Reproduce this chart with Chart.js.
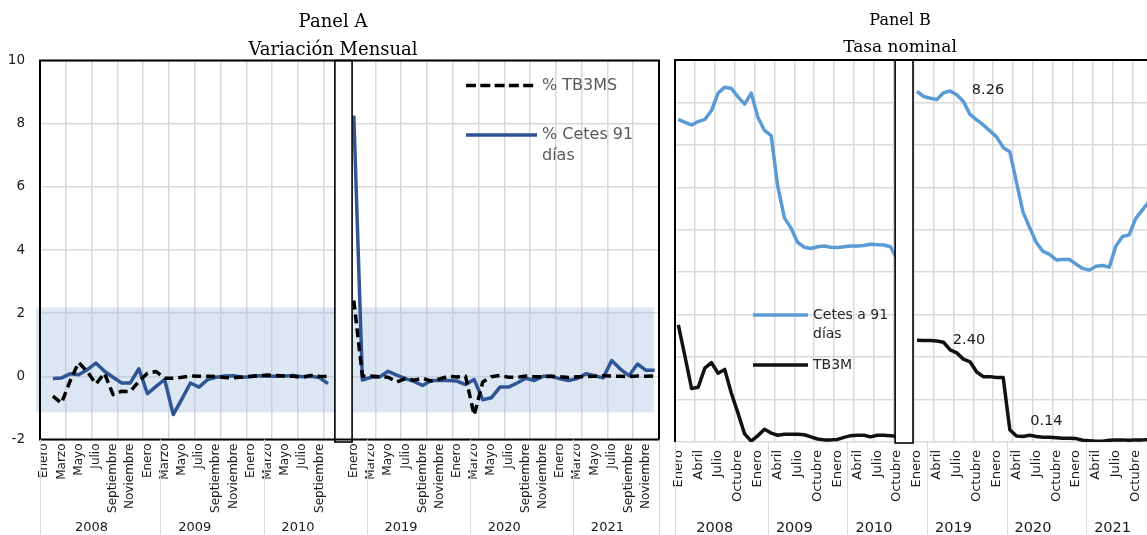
<!DOCTYPE html>
<html lang="es">
<head>
<meta charset="utf-8">
<title>Cetes 91 días y TB3M</title>
<script src="https://cdn.jsdelivr.net/npm/chart.js@4/dist/chart.umd.min.js"></script>
<style>
  html, body { margin: 0; padding: 0; background: #fff; overflow: hidden; }
  #wrap { position: relative; width: 1147px; height: 535px; overflow: hidden; background: #fff; }
  canvas { position: absolute; top: 0; }
  #panelA { left: 0; }
  #panelB { left: 665px; }
</style>
</head>
<body>
<div id="wrap">
  <canvas id="panelA" width="668" height="535"></canvas>
  <canvas id="panelB" width="495" height="535"></canvas>
</div>
<script>
// ---- Categories ---------------------------------------------------------
const years = ['2008', '2009', '2010', '2019', '2020', '2021'];
const months = ['Enero', 'Febrero', 'Marzo', 'Abril', 'Mayo', 'Junio', 'Julio',
                'Agosto', 'Septiembre', 'Octubre', 'Noviembre', 'Diciembre'];
// Nov–Dic 2010 sit under the axis break and carry no label
const monthLabels = years.flatMap(y => months.map((m, k) => (y === '2010' && k >= 10) ? '' : m));

// ---- Panel A: variación mensual (puntos porcentuales) -------------------
const tb3msVar = [
  // 2008
  null, -0.63, -0.85, -0.15, 0.44, 0.15, -0.24, 0.10, -0.58, -0.47, -0.48, -0.16,
  // 2009
  0.10, 0.15, -0.06, -0.06, -0.03, 0.01, 0.00, 0.00, -0.01, -0.04, -0.05, -0.02,
  // 2010
  0.00, 0.02, 0.04, 0.03, 0.01, 0.00, -0.03, 0.03, 0.00, -0.01, null, null,
  // 2019
  2.40, 0.01, 0.01, -0.01, -0.03, -0.18, -0.07, -0.12, -0.06, -0.15, -0.08, 0.00,
  // 2020
  -0.02, 0.00, -1.23, -0.18, -0.01, 0.03, -0.03, -0.03, 0.01, -0.01, -0.01, 0.00,
  // 2021
  -0.01, -0.04, -0.01, -0.01, 0.00, 0.02, 0.01, 0.00, -0.01, 0.01, 0.00, 0.01
];
const cetesVar = [
  // 2008
  null, -0.07, -0.05, 0.08, 0.05, 0.21, 0.42, 0.16, -0.03, -0.21, -0.21, 0.24,
  // 2009
  -0.55, -0.32, -0.10, -1.21, -0.72, -0.21, -0.34, -0.10, -0.03, 0.01, 0.02, -0.03,
  // 2010
  -0.01, 0.02, 0.00, 0.00, 0.01, 0.03, -0.01, 0.00, -0.04, -0.23, null, null,
  // 2019
  8.26, -0.12, -0.03, -0.02, 0.16, 0.04, -0.07, -0.16, -0.29, -0.13, -0.13, -0.13,
  // 2020
  -0.15, -0.26, -0.10, -0.74, -0.68, -0.34, -0.34, -0.21, -0.06, -0.13, 0.00, 0.00,
  // 2021
  -0.08, -0.13, -0.07, 0.08, 0.02, -0.05, 0.50, 0.23, 0.02, 0.39, 0.19, 0.19
];
const yTicksA = [-2, 0, 2, 4, 6, 8, 10];
const bandRange = [-1.14, 2.18];   // shaded band on panel A

// ---- Panel B: tasa nominal (%) -------------------------------------------
const cetesRate = [
  // 2008
  7.60, 7.53, 7.47, 7.55, 7.60, 7.81, 8.22, 8.36, 8.33, 8.13, 7.96, 8.22,
  // 2009
  7.65, 7.34, 7.22, 6.02, 5.28, 5.04, 4.70, 4.59, 4.56, 4.60, 4.62, 4.59,
  // 2010
  4.58, 4.60, 4.62, 4.62, 4.63, 4.66, 4.65, 4.64, 4.60, 4.30, null, null,
  // 2019
  8.26, 8.14, 8.10, 8.07, 8.23, 8.27, 8.18, 8.02, 7.72, 7.59, 7.47, 7.33,
  // 2020
  7.19, 6.94, 6.84, 6.12, 5.41, 5.05, 4.70, 4.49, 4.42, 4.29, 4.30, 4.30,
  // 2021
  4.19, 4.09, 4.05, 4.14, 4.16, 4.12, 4.62, 4.84, 4.88, 5.27, 5.47, 5.66
];
const tb3mRate = [
  // 2008
  2.76, 2.02, 1.26, 1.29, 1.74, 1.87, 1.62, 1.71, 1.15, 0.68, 0.19, 0.02,
  // 2009
  0.15, 0.30, 0.21, 0.16, 0.18, 0.18, 0.18, 0.17, 0.12, 0.07, 0.05, 0.05,
  // 2010
  0.06, 0.11, 0.15, 0.16, 0.16, 0.12, 0.16, 0.16, 0.15, 0.13, null, null,
  // 2019
  2.40, 2.39, 2.39, 2.38, 2.35, 2.17, 2.10, 1.95, 1.89, 1.65, 1.54, 1.54,
  // 2020
  1.52, 1.52, 0.29, 0.14, 0.13, 0.16, 0.13, 0.11, 0.11, 0.10, 0.09, 0.09,
  // 2021
  0.08, 0.04, 0.03, 0.02, 0.02, 0.04, 0.05, 0.05, 0.04, 0.05, 0.05, 0.06
];
// points whose value is printed next to them: [dataset, category index]
const labelledPoints = [[0, 36], [1, 36], [1, 51]];

// ---- Shared helpers ------------------------------------------------------
const SANS = '"DejaVu Sans", Verdana, sans-serif';
Chart.defaults.font.family = SANS;
const GRID = '#d9d9d9';

// left edge of category slot b
function slotEdge(x, b) { return x.getPixelForValue(b - 0.5); }

function sharpX(v) { return Math.round(v) + 0.5; }

const yearRow = (cfg) => ({
  id: 'yearRow',
  afterDraw(chart) {
    const { ctx, chartArea, scales: { x } } = chart;
    ctx.save();
    ctx.strokeStyle = GRID;
    ctx.lineWidth = 1;
    cfg.dividers.forEach(b => {
      const px = sharpX(slotEdge(x, b));
      ctx.beginPath();
      ctx.moveTo(px, chartArea.bottom);
      ctx.lineTo(px, chart.height);
      ctx.stroke();
    });
    ctx.fillStyle = '#1a1a1a';
    ctx.font = cfg.font;
    ctx.textAlign = 'center';
    ctx.textBaseline = 'alphabetic';
    years.forEach((yr, k) => {
      const cx = (slotEdge(x, k * 12) + slotEdge(x, k * 12 + 12)) / 2;
      ctx.fillText(yr, cx, cfg.baseline);
    });
    ctx.restore();
  }
});

function drawBreak(chart, from, to, bottomExtra) {
  const { ctx, chartArea, scales: { x } } = chart;
  const l = x.getPixelForValue(from), r = x.getPixelForValue(to);
  ctx.save();
  ctx.fillStyle = '#fff';
  ctx.fillRect(l, chartArea.top, r - l, chartArea.bottom - chartArea.top + bottomExtra);
  ctx.strokeStyle = '#000';
  ctx.lineWidth = 1.6;
  ctx.strokeRect(l, chartArea.top, r - l, chartArea.bottom - chartArea.top + bottomExtra);
  ctx.restore();
}

function titles(ctx, cx, lines) {
  ctx.save();
  ctx.fillStyle = '#000';
  ctx.textAlign = 'center';
  ctx.textBaseline = 'alphabetic';
  lines.forEach(([text, y, font]) => { ctx.font = font; ctx.fillText(text, cx, y); });
  ctx.restore();
}

function legendItem(ctx, item) {
  ctx.save();
  ctx.strokeStyle = item.color;
  ctx.lineWidth = 3.5;
  ctx.setLineDash(item.dash || []);
  ctx.beginPath();
  ctx.moveTo(item.x0, item.y);
  ctx.lineTo(item.x1, item.y);
  ctx.stroke();
  ctx.setLineDash([]);
  ctx.fillStyle = item.textColor;
  ctx.font = item.font;
  ctx.textAlign = 'left';
  ctx.textBaseline = 'middle';
  item.text.forEach((t, k) => ctx.fillText(t, item.x1 + 5, item.y + k * item.lead));
  ctx.restore();
}

// ---- Panel A -------------------------------------------------------------
const panelADecor = {
  id: 'panelADecor',
  beforeDatasetsDraw(chart) {
    const { ctx, chartArea, scales: { y } } = chart;
    const top = y.getPixelForValue(bandRange[1]);
    const bot = y.getPixelForValue(bandRange[0]);
    ctx.save();
    ctx.fillStyle = 'rgba(170, 195, 226, 0.4)';
    ctx.fillRect(chartArea.left - 4, top, chartArea.right - 5 - (chartArea.left - 4), bot - top);
    ctx.restore();
  },
  afterDatasetsDraw(chart) {
    const { ctx, chartArea } = chart;
    drawBreak(chart, 33.8, 35.8, 2.5);
    ctx.save();
    ctx.strokeStyle = '#000';
    ctx.lineWidth = 2;
    ctx.strokeRect(chartArea.left, chartArea.top, chartArea.right - chartArea.left, chartArea.bottom - chartArea.top);
    ctx.restore();
  },
  afterDraw(chart) {
    const ctx = chart.ctx;
    titles(ctx, 333, [
      ['Panel A', 26.5, '18px "DejaVu Serif"'],
      ['Variación Mensual', 55, '18px "DejaVu Serif"']
    ]);
    legendItem(ctx, { x0: 466, x1: 537, y: 85.5, color: '#000', dash: [10, 4.3],
      text: ['% TB3MS'], font: '16px ' + SANS, textColor: '#595959', lead: 21 });
    legendItem(ctx, { x0: 466, x1: 537, y: 135, color: '#2f5597',
      text: ['% Cetes 91', 'días'], font: '16px ' + SANS, textColor: '#595959', lead: 21 });
  }
};

new Chart(document.getElementById('panelA'), {
  type: 'line',
  data: {
    labels: monthLabels,
    datasets: [
      { label: '% TB3MS', data: tb3msVar, borderColor: '#000', borderWidth: 3.5,
        borderDash: [9, 5], borderJoinStyle: 'round', pointRadius: 0, tension: 0, spanGaps: false },
      { label: '% Cetes 91 días', data: cetesVar, borderColor: '#2f5597', borderWidth: 3.5,
        borderJoinStyle: 'round', pointRadius: 0, tension: 0, spanGaps: false }
    ]
  },
  options: {
    responsive: false, animation: false, devicePixelRatio: 1, events: [],
    layout: { padding: { top: 60.5, right: 9, left: 0, bottom: 0 } },
    plugins: { legend: { display: false }, tooltip: { enabled: false }, title: { display: false } },
    scales: {
      x: {
        type: 'category', offset: true,
        grid: { offset: true, drawTicks: false, lineWidth: 1.5,
                color: c => (c.index % 3 === 0 ? GRID : 'rgba(0,0,0,0)') },
        border: { display: false },
        ticks: {
          autoSkip: false, minRotation: 90, maxRotation: 90, padding: 4,
          color: '#1a1a1a', font: { family: SANS, size: 12 },
          callback: (v, i) => (i % 2 === 0 ? monthLabels[i] : '')
        },
        afterFit: s => { s.height = 95.5; s.paddingLeft = 0; s.paddingRight = 0; }
      },
      y: {
        min: yTicksA[0], max: yTicksA[yTicksA.length - 1],
        afterBuildTicks: s => { s.ticks = yTicksA.map(v => ({ value: v })); },
        grid: { drawTicks: false, lineWidth: 1.5, color: GRID },
        border: { display: false },
        ticks: { padding: 15, color: '#1a1a1a', font: { family: SANS, size: 13.5 } },
        afterFit: s => { s.width = 40; s.paddingTop = 0; s.paddingBottom = 0; }
      }
    }
  },
  plugins: [panelADecor, yearRow({ dividers: [0, 14, 26, 38, 50, 62, 72], font: '13px ' + SANS, baseline: 531 })]
});

// ---- Panel B -------------------------------------------------------------
const labelOffsets = [[71, -1], [52, 0.5], [30, -15]];

const panelBDecor = {
  id: 'panelBDecor',
  afterDatasetsDraw(chart) {
    const { ctx, chartArea, scales: { x, y } } = chart;
    drawBreak(chart, 32.7, 35.4, 1);
    ctx.save();
    ctx.strokeStyle = '#000';
    ctx.lineWidth = 2;
    ctx.beginPath();
    ctx.moveTo(chartArea.left, chartArea.bottom);
    ctx.lineTo(chartArea.left, chartArea.top);
    ctx.lineTo(chart.width + 5, chartArea.top);
    ctx.stroke();
    // value labels
    ctx.fillStyle = '#1a1a1a';
    ctx.font = '14.5px ' + SANS;
    ctx.textAlign = 'center';
    ctx.textBaseline = 'middle';
    labelledPoints.forEach(([ds, idx], k) => {
      const v = chart.data.datasets[ds].data[idx];
      const [dx, dy] = labelOffsets[k];
      ctx.fillText(v.toFixed(2), x.getPixelForValue(idx) + dx, y.getPixelForValue(v) + dy);
    });
    ctx.restore();
  },
  afterDraw(chart) {
    const ctx = chart.ctx;
    titles(ctx, 235, [
      ['Panel B', 25, '16px "DejaVu Serif"'],
      ['Tasa nominal', 51.5, '17px "DejaVu Serif"']
    ]);
    legendItem(ctx, { x0: 88, x1: 143, y: 315, color: '#5b9bd5',
      text: ['Cetes a 91', 'días'], font: '14px ' + SANS, textColor: '#262626', lead: 19 });
    legendItem(ctx, { x0: 88, x1: 143, y: 365, color: '#111',
      text: ['TB3M'], font: '14px ' + SANS, textColor: '#262626', lead: 19 });
  }
};

new Chart(document.getElementById('panelB'), {
  type: 'line',
  data: {
    labels: monthLabels,
    datasets: [
      { label: 'Cetes a 91 días', data: cetesRate, borderColor: '#5b9bd5', borderWidth: 3.5,
        borderJoinStyle: 'round', pointRadius: 0, tension: 0, spanGaps: false },
      { label: 'TB3M', data: tb3mRate, borderColor: '#111', borderWidth: 3.5,
        borderJoinStyle: 'round', pointRadius: 0, tension: 0, spanGaps: false }
    ]
  },
  options: {
    responsive: false, animation: false, devicePixelRatio: 1, events: [],
    layout: { padding: { top: 60, right: 495 - 10 - 72 * 6.63, left: 0, bottom: 0 } },
    plugins: { legend: { display: false }, tooltip: { enabled: false }, title: { display: false } },
    scales: {
      x: {
        type: 'category', offset: true,
        grid: { offset: true, drawTicks: false, lineWidth: 1.5,
                color: c => (c.index % 3 === 0 ? GRID : 'rgba(0,0,0,0)') },
        border: { display: false },
        ticks: {
          autoSkip: false, minRotation: 90, maxRotation: 90, padding: 8,
          color: '#1a1a1a', font: { family: SANS, size: 13 },
          callback: (v, i) => (i % 3 === 0 ? monthLabels[i] : '')
        },
        afterFit: s => { s.height = 93; s.paddingLeft = 0; s.paddingRight = 0; }
      },
      y: {
        min: 0, max: 9,
        ticks: { display: false, stepSize: 1 },
        grid: { drawTicks: false, lineWidth: 1.5, color: GRID },
        border: { display: false },
        afterFit: s => { s.width = 10; s.paddingTop = 0; s.paddingBottom = 0; }
      }
    }
  },
  plugins: [panelBDecor, yearRow({ dividers: [0, 14, 26, 38, 50, 62, 72], font: '14.5px ' + SANS, baseline: 532 })]
});
</script>
</body>
</html>
